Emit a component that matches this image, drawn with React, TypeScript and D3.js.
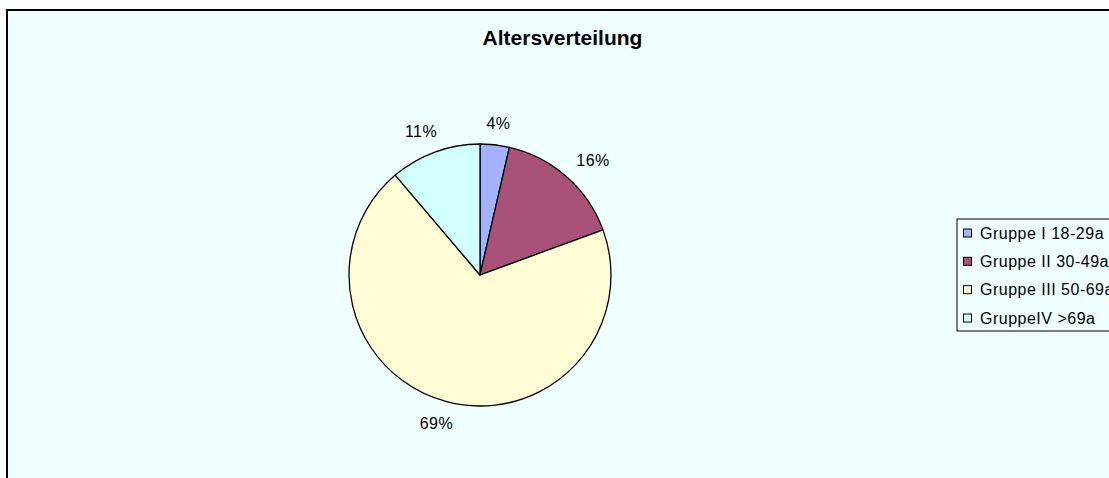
import React from "react";
import * as d3 from "d3";

const categories = ["Gruppe I 18-29a", "Gruppe II 30-49a", "Gruppe III 50-69a", "GruppeIV >69a"];
const values = [3.6, 15.8, 69.4, 11.2];
const colors = ["#A4B2FF", "#A8527A", "#FFFCD6", "#D2FFFF"];
const title = "Altersverteilung";

const W = 1109;
const H = 478;
const cx = 480;
const cy = 275;
const R = 131;
const FONT = "'Liberation Sans', Arial, Helvetica, sans-serif";

export default function App() {
  const total = d3.sum(values);
  const pie = d3.pie<number>().sort(null).value((d) => d);
  const arcs = pie(values);
  const arcGen = d3.arc<d3.PieArcDatum<number>>().innerRadius(0).outerRadius(R);
  const fmt = (v: number) => `${Math.round((v / total) * 100)}%`;

  const legendY = d3.scalePoint<number>().domain(d3.range(categories.length)).range([233, 318]);

  return (
    <div style={{ position: "absolute", left: 0, top: 0 }}>
      <svg width={W} height={H} style={{ display: "block" }}>
        <rect x={0} y={0} width={W} height={H} fill="#ffffff" />
        <rect x={7} y={10} width={1300} height={700} fill="#F0FFFF" stroke="#000" strokeWidth={2} />
        <text x={562.5} y={45} textAnchor="middle" fontFamily={FONT} fontWeight="bold" fontSize={21} fill="#000">
          {title}
        </text>
        <g transform={`translate(${cx},${cy})`}>
          {arcs.map((a, i) => (
            <path key={i} d={arcGen(a) || ""} fill={colors[i]} stroke="#000" strokeWidth={1.3} strokeLinejoin="round" />
          ))}
          {arcs.map((a, i) => {
            const th = (a.startAngle + a.endAngle) / 2;
            const label = fmt(values[i]);
            const w = (label.length - 1) * 9 + 14;
            const h = 12;
            const r0 = 147;
            const x = r0 * Math.sin(th) + w * 0.75 * Math.sin(th);
            const y = -r0 * Math.cos(th) - (h / 2) * Math.cos(th);
            return (
              <text key={i} x={x} y={y + 6} textAnchor="middle" fontFamily={FONT} fontSize={16} letterSpacing={0.5} fill="#000">
                {label}
              </text>
            );
          })}
        </g>
        <rect x={957} y={219} width={200} height={112} fill="#F0FFFF" stroke="#000" strokeWidth={1} />
        {categories.map((c, i) => {
          const y = legendY(i) as number;
          return (
            <g key={c}>
              <rect x={963.5} y={y - 4} width={8} height={8} fill={colors[i]} stroke="#000" strokeWidth={1} />
              <text x={980} y={y + 5.5} fontFamily={FONT} fontSize={16} letterSpacing={0.5} fill="#000">
                {c}
              </text>
            </g>
          );
        })}
      </svg>
    </div>
  );
}
